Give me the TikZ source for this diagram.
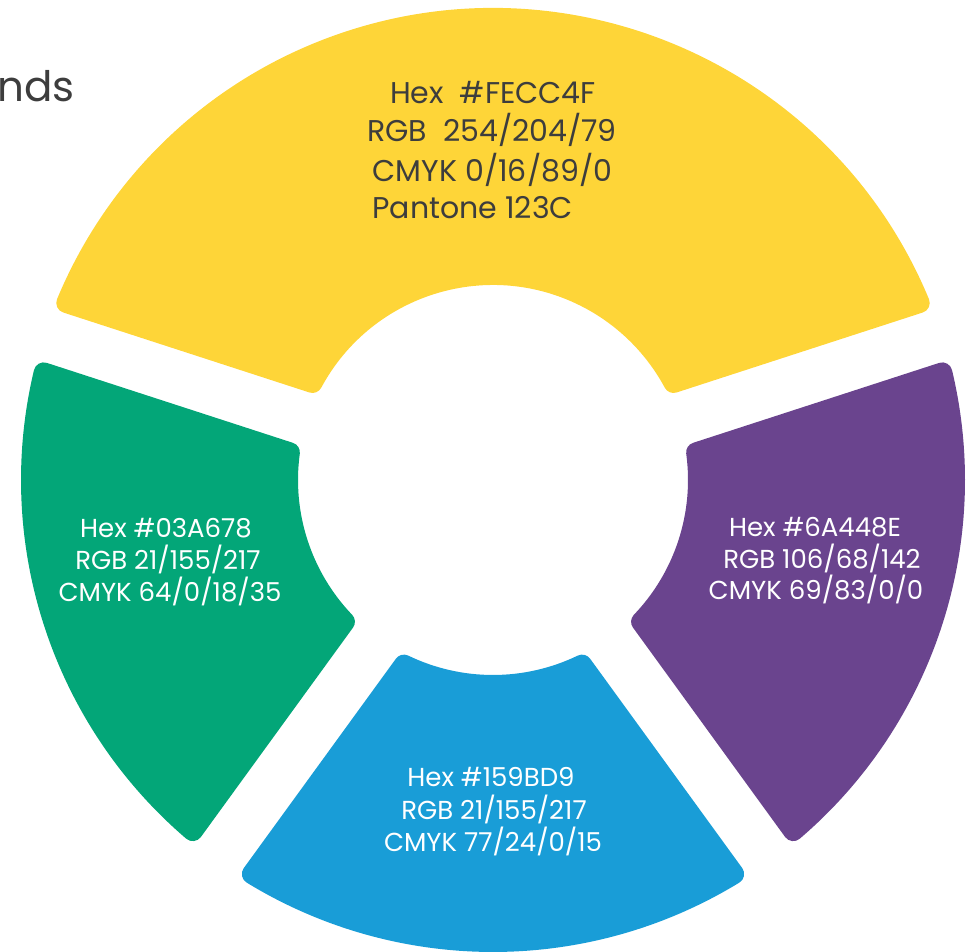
\documentclass[tikz,border=0pt]{standalone}
\usepackage{fontspec}
\setmainfont{Poppins}
\definecolor{cyellow}{HTML}{FED538}
\definecolor{cgreen}{HTML}{03A678}
\definecolor{cpurple}{HTML}{6A448E}
\definecolor{cblue}{HTML}{199DD7}
\definecolor{ctext}{HTML}{3D3D3D}
\newcommand\donutseg[3]{%
  \pgfmathsetmacro\sA{#2+\angO}\pgfmathsetmacro\eA{#3-\angO}%
  \pgfmathsetmacro\sB{#3-\angI}\pgfmathsetmacro\eB{#2+\angI}%
  \filldraw[seg, fill=#1, draw=#1] (\sA:\Ro) arc[start angle=\sA, end angle=\eA, radius=\Ro]
    -- (\sB:\Ri) arc[start angle=\sB, end angle=\eB, radius=\Ri] -- cycle;}
\begin{document}
\begin{tikzpicture}[x=0.5pt,y=0.5pt,
  seg/.style={line width=10pt, line join=round},
  bigtext/.style={inner sep=0pt, text=ctext, font=\fontsize{15pt}{15pt}\selectfont},
  smalltext/.style={inner sep=0pt, text=white, font=\fontsize{13pt}{13pt}\selectfont},
  titletext/.style={inner sep=0pt, text=ctext, font=\fontsize{21pt}{21pt}\selectfont}]
\useasboundingbox (0,0) rectangle (967,951);
\def\Ro{462}\def\Ri{205}\def\S{36.5}
\pgfmathsetmacro\angO{asin(\S/\Ro)}
\pgfmathsetmacro\angI{asin(\S/\Ri)}
\begin{scope}[shift={(493,471)}]
  \donutseg{cyellow}{18}{162}
  \donutseg{cgreen}{162}{234}
  \donutseg{cblue}{234}{306}
  \donutseg{cpurple}{306}{378}
\end{scope}
% title fragment
\node[titletext, anchor=base east] (title) at (75,849) {nds};
% yellow
\node[bigtext, anchor=base] (y1) at (493,847.7) {Hex\ \ \#FECC4F};
\node[bigtext, anchor=base] (y2) at (492,809.3) {RGB\ \ 254/204/79};
\node[bigtext, anchor=base] (y3) at (492.5,769.3) {CMYK 0/16/89/0};
\node[bigtext, anchor=base west] (y4) at (372,732.7) {Pantone 123C};
% green
\node[smalltext, anchor=base] (g1) at (166,413) {Hex \#03A678};
\node[smalltext, anchor=base] (g2) at (168,381) {RGB 21/155/217};
\node[smalltext, anchor=base] (g3) at (170,349.3) {CMYK 64/0/18/35};
% purple
\node[smalltext, anchor=base] (p1) at (815,414.3) {Hex \#6A448E};
\node[smalltext, anchor=base] (p2) at (822,382.7) {RGB 106/68/142};
\node[smalltext, anchor=base] (p3) at (816,351) {CMYK 69/83/0/0};
% blue
\node[smalltext, anchor=base] (b1) at (491,164.3) {Hex \#159BD9};
\node[smalltext, anchor=base] (b2) at (494,131) {RGB 21/155/217};
\node[smalltext, anchor=base] (b3) at (493,99.3) {CMYK 77/24/0/15};
\end{tikzpicture}
\end{document}
